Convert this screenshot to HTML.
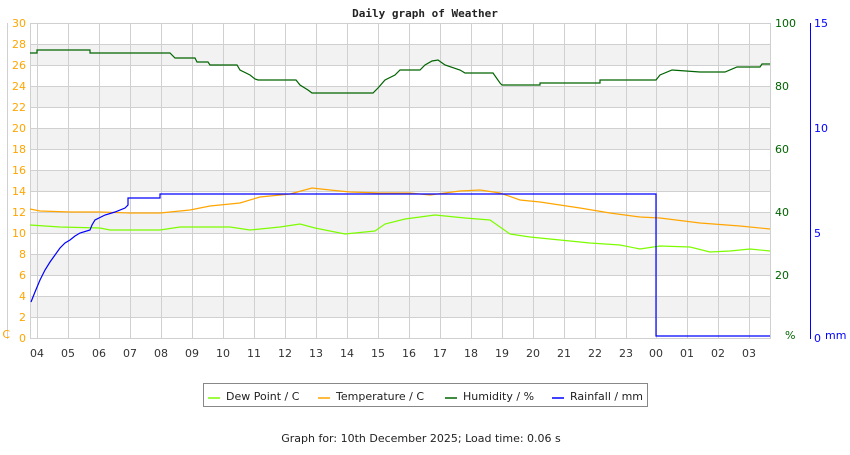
<!DOCTYPE html>
<html><head><meta charset="utf-8"><style>
body{margin:0;background:#fff;width:850px;height:450px;overflow:hidden}
svg{font-family:"DejaVu Sans","Liberation Sans",sans-serif}
</style></head><body>
<svg width="850" height="450" xmlns="http://www.w3.org/2000/svg">
<text x="425" y="17" text-anchor="middle" font-family="DejaVu Sans Mono,Liberation Mono,monospace" font-weight="bold" font-size="11" fill="#222">Daily graph of Weather</text>
<g fill="#f2f2f2">
<rect x="30" y="44" width="740" height="21"/><rect x="30" y="86" width="740" height="21"/><rect x="30" y="128" width="740" height="21"/><rect x="30" y="170" width="740" height="21"/><rect x="30" y="212" width="740" height="21"/><rect x="30" y="254" width="740" height="21"/><rect x="30" y="296" width="740" height="21"/>
</g>
<g stroke="#d0d0d0" stroke-width="1">
<line x1="30" y1="23.5" x2="770" y2="23.5"/><line x1="30" y1="44.5" x2="770" y2="44.5"/><line x1="30" y1="65.5" x2="770" y2="65.5"/><line x1="30" y1="86.5" x2="770" y2="86.5"/><line x1="30" y1="107.5" x2="770" y2="107.5"/><line x1="30" y1="128.5" x2="770" y2="128.5"/><line x1="30" y1="149.5" x2="770" y2="149.5"/><line x1="30" y1="170.5" x2="770" y2="170.5"/><line x1="30" y1="191.5" x2="770" y2="191.5"/><line x1="30" y1="212.5" x2="770" y2="212.5"/><line x1="30" y1="233.5" x2="770" y2="233.5"/><line x1="30" y1="254.5" x2="770" y2="254.5"/><line x1="30" y1="275.5" x2="770" y2="275.5"/><line x1="30" y1="296.5" x2="770" y2="296.5"/><line x1="30" y1="317.5" x2="770" y2="317.5"/><line x1="30" y1="338.5" x2="770" y2="338.5"/>
<line x1="30.5" y1="23" x2="30.5" y2="339"/><line x1="770.5" y1="23" x2="770.5" y2="339"/>
<line x1="37.5" y1="23" x2="37.5" y2="339"/><line x1="68.5" y1="23" x2="68.5" y2="339"/><line x1="99.5" y1="23" x2="99.5" y2="339"/><line x1="130.5" y1="23" x2="130.5" y2="339"/><line x1="161.5" y1="23" x2="161.5" y2="339"/><line x1="192.5" y1="23" x2="192.5" y2="339"/><line x1="223.5" y1="23" x2="223.5" y2="339"/><line x1="254.5" y1="23" x2="254.5" y2="339"/><line x1="285.5" y1="23" x2="285.5" y2="339"/><line x1="316.5" y1="23" x2="316.5" y2="339"/><line x1="347.5" y1="23" x2="347.5" y2="339"/><line x1="378.5" y1="23" x2="378.5" y2="339"/><line x1="409.5" y1="23" x2="409.5" y2="339"/><line x1="440.5" y1="23" x2="440.5" y2="339"/><line x1="471.5" y1="23" x2="471.5" y2="339"/><line x1="502.5" y1="23" x2="502.5" y2="339"/><line x1="533.5" y1="23" x2="533.5" y2="339"/><line x1="564.5" y1="23" x2="564.5" y2="339"/><line x1="595.5" y1="23" x2="595.5" y2="339"/><line x1="626.5" y1="23" x2="626.5" y2="339"/><line x1="656.5" y1="23" x2="656.5" y2="339"/><line x1="687.5" y1="23" x2="687.5" y2="339"/><line x1="718.5" y1="23" x2="718.5" y2="339"/><line x1="749.5" y1="23" x2="749.5" y2="339"/>
<line x1="7.5" y1="23" x2="7.5" y2="339"/>
</g>
<line x1="810.5" y1="23" x2="810.5" y2="339" stroke="#0000ff"/>
<g font-size="11" fill="#ffa500" text-anchor="end">
<text x="26" y="27">30</text><text x="26" y="48">28</text><text x="26" y="69">26</text><text x="26" y="90">24</text><text x="26" y="111">22</text><text x="26" y="132">20</text><text x="26" y="153">18</text><text x="26" y="174">16</text><text x="26" y="195">14</text><text x="26" y="216">12</text><text x="26" y="237">10</text><text x="26" y="258">8</text><text x="26" y="279">6</text><text x="26" y="300">4</text><text x="26" y="321">2</text><text x="26" y="342">0</text>
<text x="10" y="338">C</text>
</g>
<g font-size="11" fill="#006400">
<text x="775" y="27">100</text><text x="775" y="90">80</text><text x="775" y="153">60</text><text x="775" y="216">40</text><text x="775" y="279">20</text><text x="785" y="339">%</text>
</g>
<g font-size="11" fill="#0000ff">
<text x="814" y="27">15</text><text x="814" y="132">10</text><text x="814" y="237">5</text><text x="814" y="342">0</text><text x="825" y="339">mm</text>
</g>
<g font-size="11" fill="#333" text-anchor="middle">
<text x="37" y="357">04</text><text x="68" y="357">05</text><text x="99" y="357">06</text><text x="130" y="357">07</text><text x="161" y="357">08</text><text x="192" y="357">09</text><text x="223" y="357">10</text><text x="254" y="357">11</text><text x="285" y="357">12</text><text x="316" y="357">13</text><text x="347" y="357">14</text><text x="378" y="357">15</text><text x="409" y="357">16</text><text x="440" y="357">17</text><text x="471" y="357">18</text><text x="502" y="357">19</text><text x="533" y="357">20</text><text x="564" y="357">21</text><text x="595" y="357">22</text><text x="626" y="357">23</text><text x="656" y="357">00</text><text x="687" y="357">01</text><text x="718" y="357">02</text><text x="749" y="357">03</text>
</g>
<g fill="none" stroke-width="1.2">
<polyline stroke="#7cfc00" points="30,225 60,227 100,228 110,230 160,230 180,227 230,227 250,230 280,227 300,224 315,228 330,231 345,234 375,231 385,224 405,219 435,215 465,218 490,220 500,227 510,234 530,237 560,240 590,243 620,245 640,249 660,246 690,247 710,252 730,251 750,249 770,251"/>
<polyline stroke="#ffa500" points="30,209 40,211 70,212 100,212 130,213 160,213 190,210 210,206 240,203 260,197 290,194 312,188 330,190 350,192 380,193 410,193 430,195 460,191 480,190 500,193 520,200 540,202 560,205 580,208 610,213 640,217 660,218 700,223 740,226 770,229"/>
<polyline stroke="#006400" points="30,53 37,53 37,50 90,50 90,53 170,53 175,58 195,58 197,62 208,62 210,65 237,65 240,70 250,75 255,79 258,80 296,80 300,85 308,90 312,93 373,93 378,88 385,80 395,75 400,70 420,70 425,65 432,61 438,60 445,65 460,70 465,73 493,73 500,83 502,85 540,85 540,83 600,83 600,80 656,80 660,75 672,70 700,72 725,72 737,67 760,67 762,64 770,64"/>
<polyline stroke="#0000ff" points="31,302 35,292 40,280 45,270 50,262 55,255 60,248 65,243 70,240 75,236 80,233 90,230 92,225 95,220 105,215 115,212 125,208 128,205 128,198 160,198 160,194 656,194 656,336 770,336"/>
</g>
<rect x="203.5" y="383.5" width="444" height="23" fill="#fff" stroke="#888"/>
<g font-size="11" fill="#222">
<line x1="208" y1="398" x2="220" y2="398" stroke="#7cfc00" stroke-width="1.5"/><text x="226" y="400">Dew Point / C</text>
<line x1="318" y1="398" x2="330" y2="398" stroke="#ffa500" stroke-width="1.5"/><text x="336" y="400">Temperature / C</text>
<line x1="445" y1="398" x2="457" y2="398" stroke="#006400" stroke-width="1.5"/><text x="463" y="400">Humidity / %</text>
<line x1="552" y1="398" x2="564" y2="398" stroke="#0000ff" stroke-width="1.5"/><text x="570" y="400">Rainfall / mm</text>
</g>
<text x="421" y="442" text-anchor="middle" font-size="11" fill="#222">Graph for: 10th December 2025; Load time: 0.06 s</text>
</svg>
</body></html>
